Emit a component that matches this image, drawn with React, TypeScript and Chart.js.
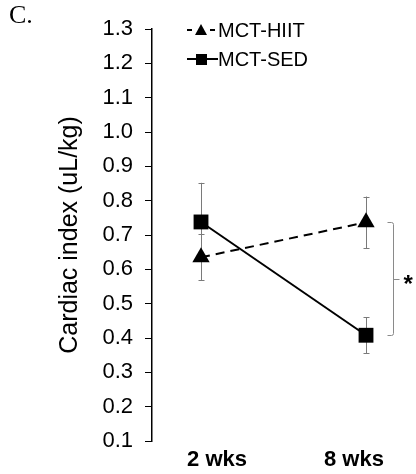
import React, { useEffect, useRef } from "react";
import { Chart, registerables } from "chart.js";

Chart.register(...registerables);

// ---- data ----
const categories = ["2 wks", "8 wks"];
const categoryX = [1, 2];
const hiitMeans = [0.635, 0.737];
const hiitErrors = [0.067, 0.075];
const sedMeans = [0.738, 0.408];
const sedErrors = [0.114, 0.053];
const seriesNames = ["MCT-HIIT", "MCT-SED"];
const yTickMin = 0.1;
const yTickMax = 1.3;
const yTickStep = 0.1;
const panelLetter = "C.";
const yTitle = "Cardiac index (uL/kg)";
const significance = "*";

const SANS = "'Liberation Sans', Arial, sans-serif";
const SERIF = "'Liberation Serif', 'Times New Roman', serif";

export default function App() {
  const ref = useRef<HTMLCanvasElement | null>(null);

  useEffect(() => {
    if (!ref.current) return;

    const errorBars = {
      id: "errorBars",
      beforeDatasetsDraw(chart: any) {
        const ctx = chart.ctx;
        const xs = chart.scales.x;
        const ys = chart.scales.y;
        const sets = [
          { m: hiitMeans, e: hiitErrors },
          { m: sedMeans, e: sedErrors },
        ];
        ctx.save();
        ctx.strokeStyle = "#7a7a7a";
        ctx.lineWidth = 1;
        sets.forEach((s) => {
          s.m.forEach((m, i) => {
            const px = Math.round(xs.getPixelForValue(categoryX[i])) + 0.5;
            const top = ys.getPixelForValue(m + s.e[i]);
            const bot = ys.getPixelForValue(m - s.e[i]);
            ctx.beginPath();
            ctx.moveTo(px, top);
            ctx.lineTo(px, bot);
            ctx.moveTo(px - 3, Math.round(top) + 0.5);
            ctx.lineTo(px + 3, Math.round(top) + 0.5);
            ctx.moveTo(px - 3, Math.round(bot) + 0.5);
            ctx.lineTo(px + 3, Math.round(bot) + 0.5);
            ctx.stroke();
          });
        });
        ctx.restore();
      },
    };

    const extras = {
      id: "extras",
      afterDraw(chart: any) {
        const ctx = chart.ctx;
        const xs = chart.scales.x;
        const ys = chart.scales.y;
        ctx.save();
        // panel letter
        ctx.fillStyle = "#000";
        ctx.font = `26px ${SERIF}`;
        ctx.textAlign = "left";
        ctx.textBaseline = "middle";
        ctx.fillText(panelLetter, 9, 16);

        // bracket
        const bx = Math.round(xs.getPixelForValue(categoryX[1]) + 27) + 0.5;
        const t = Math.round(ys.getPixelForValue(hiitMeans[1])) + 0.5;
        const b = Math.round(ys.getPixelForValue(sedMeans[1])) + 0.5;
        const mid = Math.round((t + b) / 2) + 0.5;
        ctx.strokeStyle = "#8a8a8a";
        ctx.lineWidth = 1;
        ctx.beginPath();
        ctx.moveTo(bx - 6, t);
        ctx.lineTo(bx - 2, t);
        ctx.quadraticCurveTo(bx, t, bx, t + 2);
        ctx.lineTo(bx, b - 2);
        ctx.quadraticCurveTo(bx, b, bx - 2, b);
        ctx.lineTo(bx - 6, b);
        ctx.moveTo(bx, mid);
        ctx.lineTo(bx + 6, mid);
        ctx.stroke();
        ctx.fillStyle = "#000";
        ctx.font = `bold 24px ${SANS}`;
        ctx.textAlign = "left";
        ctx.textBaseline = "middle";
        ctx.fillText(significance, bx + 10, mid + 6);

        // legend
        const rows = [
          { y: 30, dash: [5, 5], style: "triangle" },
          { y: 59, dash: [], style: "rect" },
        ];
        rows.forEach((r, i) => {
          ctx.strokeStyle = "#000";
          ctx.lineWidth = 2;
          ctx.beginPath();
          if (r.dash.length) {
            ctx.moveTo(187, r.y);
            ctx.lineTo(192, r.y);
            ctx.moveTo(210, r.y);
            ctx.lineTo(215, r.y);
          } else {
            ctx.moveTo(187, r.y);
            ctx.lineTo(218, r.y);
          }
          ctx.stroke();
          ctx.fillStyle = "#000";
          ctx.beginPath();
          if (r.style === "triangle") {
            ctx.moveTo(201, r.y - 6);
            ctx.lineTo(207, r.y + 5);
            ctx.lineTo(195, r.y + 5);
            ctx.closePath();
            ctx.fill();
          } else {
            ctx.fillRect(196, r.y - 5, 11, 11);
          }
          ctx.font = `20px ${SANS}`;
          ctx.textAlign = "left";
          ctx.textBaseline = "middle";
          ctx.fillText(seriesNames[i], 218, r.y + 1);
        });
        ctx.restore();
      },
    };

    const chart = new Chart(ref.current, {
      type: "line",
      data: {
        datasets: [
          {
            label: seriesNames[0],
            data: hiitMeans.map((v, i) => ({ x: categoryX[i], y: v })),
            borderColor: "#000",
            backgroundColor: "#000",
            borderWidth: 2,
            borderDash: [9, 6],
            pointStyle: "triangle",
            pointRadius: 10,
            pointBorderWidth: 0,
          },
          {
            label: seriesNames[1],
            data: sedMeans.map((v, i) => ({ x: categoryX[i], y: v })),
            borderColor: "#000",
            backgroundColor: "#000",
            borderWidth: 2,
            pointStyle: "rect",
            pointRadius: 10.5,
            pointBorderWidth: 0,
          },
        ],
      },
      options: {
        responsive: false,
        animation: false,
        layout: { padding: { left: 0, top: 29, right: 16, bottom: 0 } },
        plugins: {
          legend: { display: false },
          tooltip: { enabled: false },
        },
        scales: {
          x: {
            type: "linear",
            min: 0.703,
            max: 2.206,
            grid: { display: false },
            border: { display: false },
            afterFit: (s: any) => {
              s.height = 33;
            },
            afterBuildTicks: (s: any) => {
              s.ticks = [1.097, 1.927].map((v) => ({ value: v }));
            },
            ticks: {
              autoSkip: false,
              maxRotation: 0,
              padding: -2,
              color: "#000",
              font: { family: SANS, size: 22, weight: "bold" },
              callback: (_v: any, i: number) => categories[i],
            },
          },
          y: {
            min: yTickMin,
            max: yTickMax,
            afterFit: (s: any) => {
              s.width = 152;
            },
            grid: {
              display: true,
              drawOnChartArea: false,
              drawTicks: true,
              tickLength: 7,
              color: "#000",
              lineWidth: 1,
            },
            border: { display: true, color: "#000", width: 1.5 },
            title: {
              display: true,
              text: yTitle,
              color: "#000",
              font: { family: SANS, size: 25 },
              padding: { top: 55, bottom: 0 },
            },
            ticks: {
              stepSize: yTickStep,
              padding: 12,
              color: "#000",
              font: { family: SANS, size: 22 },
              callback: (v: any) => Number(v).toFixed(1),
            },
          },
        },
      },
      plugins: [errorBars, extras],
    });
    return () => chart.destroy();
  }, []);

  return (
    <div style={{ position: "absolute", left: 0, top: 0, width: 416, height: 474, background: "#fff" }}>
      <canvas ref={ref} width={416} height={474} />
    </div>
  );
}
